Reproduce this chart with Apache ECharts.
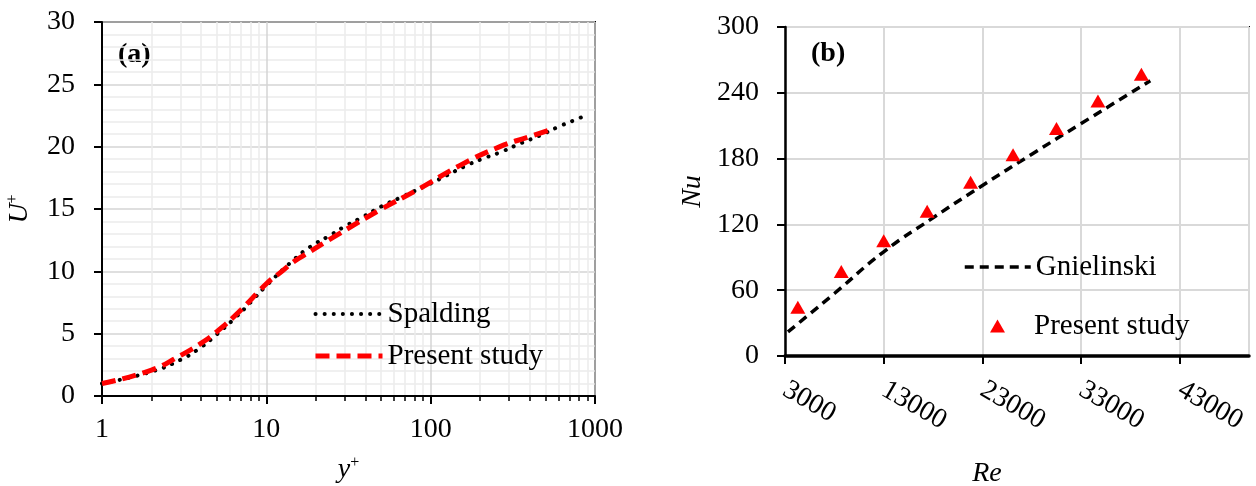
<!DOCTYPE html>
<html>
<head>
<meta charset="utf-8">
<script src="https://cdn.jsdelivr.net/npm/echarts@6/dist/echarts.min.js"></script>
<style>
  html, body { margin: 0; padding: 0; background: #fff; }
  #chart { width: 1256px; height: 486px; }
</style>
</head>
<body>
<div id="chart"></div>
<script>
// (a) law of the wall
const spaldingYp = [1, 2, 3, 4, 5, 6.5, 8, 10, 14.6, 18.4, 23.8, 30, 39, 50, 65, 100, 166, 209, 271, 350, 463, 600, 790, 910];
const spaldingUp = [1.0, 1.95, 2.9, 3.9, 4.95, 6.3, 7.5, 8.85, 10.9, 11.95, 12.8, 13.6, 14.4, 15.2, 15.9, 17.05, 18.5, 19.05, 19.6, 20.25, 20.9, 21.6, 22.25, 22.6];
const presentYp = [1, 2, 3, 4, 5, 7, 10, 12, 14.6, 17, 28, 49, 86, 151, 264, 400, 546];
const presentUp = [1.0, 2.08, 3.25, 4.22, 5.16, 6.9, 9.0, 9.84, 10.75, 11.3, 13.05, 14.92, 16.65, 18.5, 20.0, 20.8, 21.4];

// (b) Nusselt number
const reGnielinski = [3300, 8000, 13000, 18000, 23000, 28000, 33000, 40000];
const nuGnielinski = [22, 57, 95, 126, 155.5, 184, 212, 251];
const reMeasured = [4300, 8700, 13000, 17400, 21800, 26100, 30500, 34700, 39100];
const nuMeasured = [44.5, 77, 105, 132, 158.5, 183.5, 207.5, 232.5, 257];

const FONT = '"Liberation Serif", "Times New Roman", serif';
const zip = (xs, ys) => xs.map((x, i) => [x, ys[i]]);
const plain = v => String(v);

const tickText = { fontFamily: FONT, fontSize: 28, color: '#000', formatter: plain };
const legendText = { fontFamily: FONT, fontSize: 29, color: '#000', lineHeight: 30 };
const nameRich = {
  i: { fontFamily: FONT, fontSize: 28, fontStyle: 'italic', color: '#000' },
  s: { fontFamily: FONT, fontSize: 16, color: '#000', padding: [0, 0, 13, 0] }
};
const blackAxis = w => ({ show: true, onZero: false, lineStyle: { color: '#000', width: w } });
const noSymbol = { opacity: 0 };

const chart = echarts.init(document.getElementById('chart'));
chart.setOption({
  animation: false,
  backgroundColor: '#fff',
  grid: [
    { left: 102, top: 22, width: 493, height: 374, outerBoundsMode: 'none', containLabel: false,
      show: true, borderColor: '#000', borderWidth: 2, backgroundColor: 'transparent' },
    { left: 785, top: 27, width: 464, height: 329, outerBoundsMode: 'none', containLabel: false,
      show: true, borderColor: '#000', borderWidth: 2, backgroundColor: 'transparent' }
  ],
  xAxis: [
    {
      gridIndex: 0, type: 'log', logBase: 10, min: 1, max: 1000,
      name: '{i|y}{s|+}', nameLocation: 'middle', nameGap: 59,
      nameTextStyle: { rich: nameRich },
      axisLine: blackAxis(2),
      axisTick: { length: 8, lineStyle: { color: '#000', width: 2 } },
      minorTick: { show: true, splitNumber: 9, length: 5, lineStyle: { color: '#000', width: 1.5 } },
      axisLabel: Object.assign({ margin: 20 }, tickText),
      splitLine: { show: true, lineStyle: { color: '#d4d4d4', width: 1.5 } },
      minorSplitLine: { show: true, lineStyle: { color: '#ececec', width: 1.5 } }
    },
    {
      gridIndex: 1, type: 'value', min: 3000, max: 50000, interval: 10000,
      name: 'Re', nameLocation: 'middle', nameGap: 104,
      nameTextStyle: { fontFamily: FONT, fontSize: 28, fontStyle: 'italic', color: '#000', padding: [0, 60, 0, 0] },
      axisLine: blackAxis(3.5),
      axisTick: { length: 8, lineStyle: { color: '#000', width: 2 } },
      axisLabel: Object.assign({ rotate: -30, margin: 32, showMaxLabel: false }, tickText),
      splitLine: { show: true, lineStyle: { color: '#d9d9d9', width: 2 } }
    }
  ],
  yAxis: [
    {
      gridIndex: 0, type: 'value', min: 0, max: 30, interval: 5,
      name: '{i|U}{s|+}', nameLocation: 'middle', nameRotate: 90, nameGap: 68,
      nameTextStyle: { rich: nameRich },
      axisLine: blackAxis(2),
      axisTick: { show: true, length: 8, lineStyle: { color: '#000', width: 2 } },
      minorTick: { show: false, splitNumber: 5 },
      axisLabel: Object.assign({ margin: 27 }, tickText),
      splitLine: { show: true, lineStyle: { color: '#d4d4d4', width: 1.5 } },
      minorSplitLine: { show: true, lineStyle: { color: '#ececec', width: 1.5 } }
    },
    {
      gridIndex: 1, type: 'value', min: 0, max: 300, interval: 60,
      name: 'Nu', nameLocation: 'middle', nameRotate: 90, nameGap: 78,
      nameTextStyle: { fontFamily: FONT, fontSize: 28, fontStyle: 'italic', color: '#000' },
      axisLine: blackAxis(2.5),
      axisTick: { show: true, length: 8, lineStyle: { color: '#000', width: 2 } },
      axisLabel: Object.assign({ margin: 26 }, tickText),
      splitLine: { show: true, lineStyle: { color: '#d9d9d9', width: 2 } }
    }
  ],
  legend: [
    {
      left: 308, top: 294, orient: 'vertical', itemWidth: 67, itemHeight: 14, itemGap: 12,
      textStyle: legendText, selectedMode: false,
      data: [
        { name: 'Spalding', lineStyle: { width: 4 }, itemStyle: noSymbol },
        { name: 'Present study', lineStyle: { width: 5 }, itemStyle: noSymbol }
      ]
    },
    {
      left: 958, top: 247, itemWidth: 66, itemHeight: 14,
      textStyle: legendText, selectedMode: false,
      data: [{ name: 'Gnielinski', lineStyle: { width: 3.5 }, itemStyle: noSymbol }]
    },
    {
      left: 985, top: 306, itemWidth: 15, itemHeight: 13,
      textStyle: Object.assign({ padding: [0, 0, 0, 24] }, legendText), selectedMode: false,
      data: [{ name: 'Present study ' }],
      formatter: n => n.trim()
    }
  ],
  graphic: [
    { type: 'text', left: 118, top: 41, style: { text: '(a)', font: 'bold 28px ' + FONT, fill: '#000' } },
    { type: 'text', left: 811, top: 40, style: { text: '(b)', font: 'bold 28px ' + FONT, fill: '#000' } }
  ],
  series: [
    {
      name: 'Spalding', type: 'line', xAxisIndex: 0, yAxisIndex: 0,
      data: zip(spaldingYp, spaldingUp), symbol: 'none', smooth: true, z: 2,
      lineStyle: { color: '#000', width: 4, type: [0.1, 9], cap: 'round' },
      itemStyle: { color: '#000' }
    },
    {
      name: 'Present study', type: 'line', xAxisIndex: 0, yAxisIndex: 0,
      data: zip(presentYp, presentUp), symbol: 'none', smooth: true, z: 3,
      lineStyle: { color: '#ff0000', width: 5, type: [14, 7] },
      itemStyle: { color: '#ff0000' }
    },
    {
      name: 'Gnielinski', type: 'line', xAxisIndex: 1, yAxisIndex: 1,
      data: zip(reGnielinski, nuGnielinski), symbol: 'none', smooth: true, z: 2,
      lineStyle: { color: '#000', width: 3.5, type: [9, 6] },
      itemStyle: { color: '#000' }
    },
    {
      name: 'Present study ', type: 'scatter', xAxisIndex: 1, yAxisIndex: 1,
      data: zip(reMeasured, nuMeasured), symbol: 'triangle', symbolSize: [15, 13], z: 3,
      itemStyle: { color: '#ff0000', opacity: 1 }
    }
  ]
});
</script>
</body>
</html>
